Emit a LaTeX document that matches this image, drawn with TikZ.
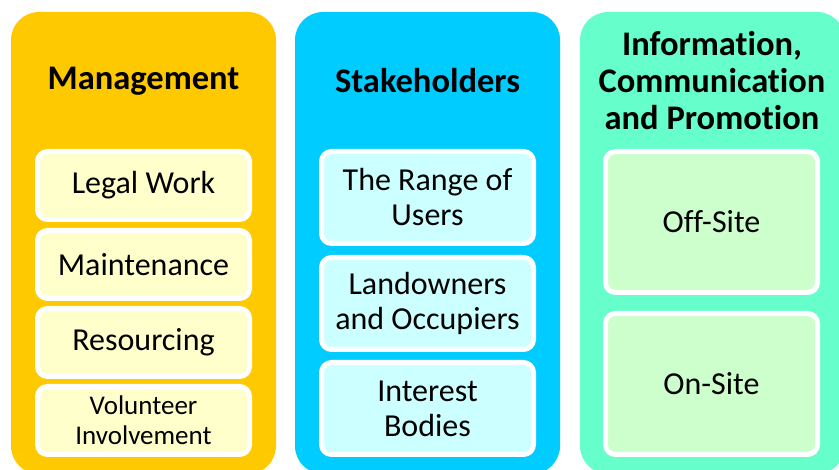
\documentclass[tikz,border=0pt]{standalone}
\usepackage{fontspec}
\setmainfont[RawFeature={-liga;-clig;-calt;-dlig;-rlig}]{Carlito}
\begin{document}
\begin{tikzpicture}[x=1pt,y=-1pt,
  col/.style={rectangle, rounded corners=28pt, minimum width=265pt, minimum height=462pt, anchor=north west, inner sep=0pt, outer sep=0pt},
  ttl/.style={font=\fontsize{34.5}{37}\selectfont\bfseries, align=center, text=black},
  item/.style={rectangle, draw=white, line width=5pt, rounded corners=10pt, minimum width=212pt, anchor=north west, inner sep=0pt, outer sep=0pt, align=center, font=\fontsize{32}{35}\selectfont},
  mitem/.style={item, fill=yellowin, minimum height=68pt},
  sitem/.style={item, fill=cyanin, minimum height=92pt},
  gitem/.style={item, fill=greenin, minimum height=141pt}
]
\definecolor{orangecol}{HTML}{FFC900}
\definecolor{cyancol}{HTML}{00CCFF}
\definecolor{greencol}{HTML}{66FFCC}
\definecolor{yellowin}{HTML}{FFFFCC}
\definecolor{cyanin}{HTML}{CCFFFF}
\definecolor{greenin}{HTML}{CCFFCC}
\fill[white] (0,0) rectangle (839,470);
\useasboundingbox (0,0) rectangle (839,470);
% columns
\node[col, fill=orangecol] (c1) at (11,12) {};
\node[col, fill=cyancol] (c2) at (295,12) {};
\node[col, fill=greencol] (c3) at (580,12) {};
% titles
\node[ttl] (t1) at (143.5,81) {Management};
\node[ttl] (t2) at (427.5,81) {Stakeholders};
\node[ttl] (t3) at (712,81) {Informat\kern0pt ion,\\Communicat\kern0pt ion\\and Promot\kern0pt ion};
% management items
\node[mitem] (m1) at (37.5,151.5) {Legal Work};
\node[mitem] (m2) at (37.5,230.5) {Maintenance};
\node[mitem] (m3) at (37.5,308.5) {Resourcing};
\node[mitem, font=\fontsize{27}{30}\selectfont] (m4) at (37.5,386.5) {Volunteer\\Involvement};
% stakeholder items
\node[sitem] (s1) at (321.5,151.5) {The Range of\\Users};
\node[sitem] (s2) at (321.5,257.5) {Landowners\\and Occupiers};
\node[sitem] (s3) at (321.5,362.5) {Interest\\Bodies};
% information items
\node[gitem] (g1) at (605.5,151.5) {Off-Site};
\node[gitem] (g2) at (605.5,313.5) {On-Site};
\end{tikzpicture}
\end{document}
